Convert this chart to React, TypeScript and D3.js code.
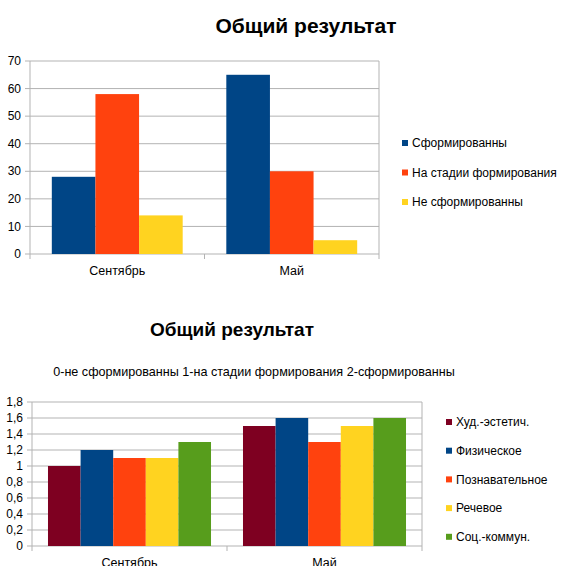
import * as d3 from 'd3';

// chart 1
const months = ['Сентябрь', 'Май'];
const levelNames = ['Сформированны', 'На стадии формирования', 'Не сформированны'];
const levelColors = ['#004586', '#ff420e', '#ffd320'];
const formed = [28, 65];
const inProgress = [58, 30];
const notFormed = [14, 5];
const levelTicks = [0, 10, 20, 30, 40, 50, 60, 70];

// chart 2
const areaNames = ['Худ.-эстетич.', 'Физическое', 'Познавательное', 'Речевое', 'Соц.-коммун.'];
const areaColors = ['#7e0021', '#004586', '#ff420e', '#ffd320', '#579d1c'];
const artistic = [1.0, 1.5];
const physical = [1.2, 1.6];
const cognitive = [1.1, 1.3];
const speech = [1.1, 1.5];
const social = [1.3, 1.6];
const scoreTicks = [0, 0.2, 0.4, 0.6, 0.8, 1, 1.2, 1.4, 1.6, 1.8];

const FONT = '"Liberation Sans", Arial, sans-serif';
const fmt = (v: number) => String(v).replace('.', ',');

interface BarChartProps {
    x0: number;
    x1: number;
    y0: number;
    y1: number;
    series: number[][];
    names: string[];
    colors: string[];
    ticks: number[];
    inner: number;
    legendX: number;
    legendY: number;
    legendStep: number;
}

function BarChart(p: BarChartProps) {
    const max = p.ticks[p.ticks.length - 1];
    const y = d3.scaleLinear().domain([0, max]).range([p.y1, p.y0]);
    const x = d3.scaleBand().domain(months).range([p.x0, p.x1]);
    const pad = (1 - p.inner) / 2;
    const sub = d3
        .scaleBand<number>()
        .domain(d3.range(p.series.length))
        .range([x.bandwidth() * pad, x.bandwidth() * (1 - pad)]);
    return (
        <g>
            {p.ticks.map((t) => (
                <g key={t}>
                    <line x1={p.x0 - 5} x2={p.x1} y1={y(t)} y2={y(t)} stroke="#b3b3b3" strokeWidth={1} />
                    <text x={p.x0 - 9} y={y(t)} dy="0.35em" textAnchor="end" fontSize={12} fill="#000">
                        {fmt(t)}
                    </text>
                </g>
            ))}
            <line x1={p.x0} x2={p.x0} y1={p.y0} y2={p.y1 + 5} stroke="#b3b3b3" />
            <line x1={p.x1} x2={p.x1} y1={p.y0} y2={p.y1 + 5} stroke="#b3b3b3" />
            <line x1={(p.x0 + p.x1) / 2} x2={(p.x0 + p.x1) / 2} y1={p.y1} y2={p.y1 + 5} stroke="#b3b3b3" />
            {months.map((m, i) => (
                <g key={m}>
                    {p.series.map((s, j) => (
                        <rect
                            key={j}
                            x={(x(m) as number) + (sub(j) as number)}
                            y={y(s[i])}
                            width={sub.bandwidth()}
                            height={p.y1 - y(s[i])}
                            fill={p.colors[j]}
                        />
                    ))}
                    <text x={(x(m) as number) + x.bandwidth() / 2} y={p.y1 + 21} textAnchor="middle" fontSize={12.5}>
                        {m}
                    </text>
                </g>
            ))}
            {p.names.map((n, j) => (
                <g key={n}>
                    <rect x={p.legendX} y={p.legendY + j * p.legendStep - 3} width={6} height={6} fill={p.colors[j]} />
                    <text x={p.legendX + 10} y={p.legendY + j * p.legendStep} dy="0.35em" fontSize={12}>
                        {n}
                    </text>
                </g>
            ))}
        </g>
    );
}

export default function App() {
    return (
        <svg
            width={564}
            height={566}
            style={{ position: 'absolute', left: 0, top: 0, background: '#fff' }}
            fontFamily={FONT}
        >
            <rect width={564} height={566} fill="#fff" />
            <text x={306} y={33} textAnchor="middle" fontSize={21} fontWeight="bold">
                Общий результат
            </text>
            <BarChart
                x0={30}
                x1={379}
                y0={61}
                y1={254}
                series={[formed, inProgress, notFormed]}
                names={levelNames}
                colors={levelColors}
                ticks={levelTicks}
                inner={0.75}
                legendX={402}
                legendY={143}
                legendStep={29.5}
            />
            <text x={232} y={336} textAnchor="middle" fontSize={19} fontWeight="bold">
                Общий результат
            </text>
            <text x={254} y={376} textAnchor="middle" fontSize={12.6}>
                0-не сформированны 1-на стадии формирования 2-сформированны
            </text>
            <BarChart
                x0={32}
                x1={422}
                y0={402}
                y1={546}
                series={[artistic, physical, cognitive, speech, social]}
                names={areaNames}
                colors={areaColors}
                ticks={scoreTicks}
                inner={0.836}
                legendX={446}
                legendY={422}
                legendStep={28.7}
            />
        </svg>
    );
}
